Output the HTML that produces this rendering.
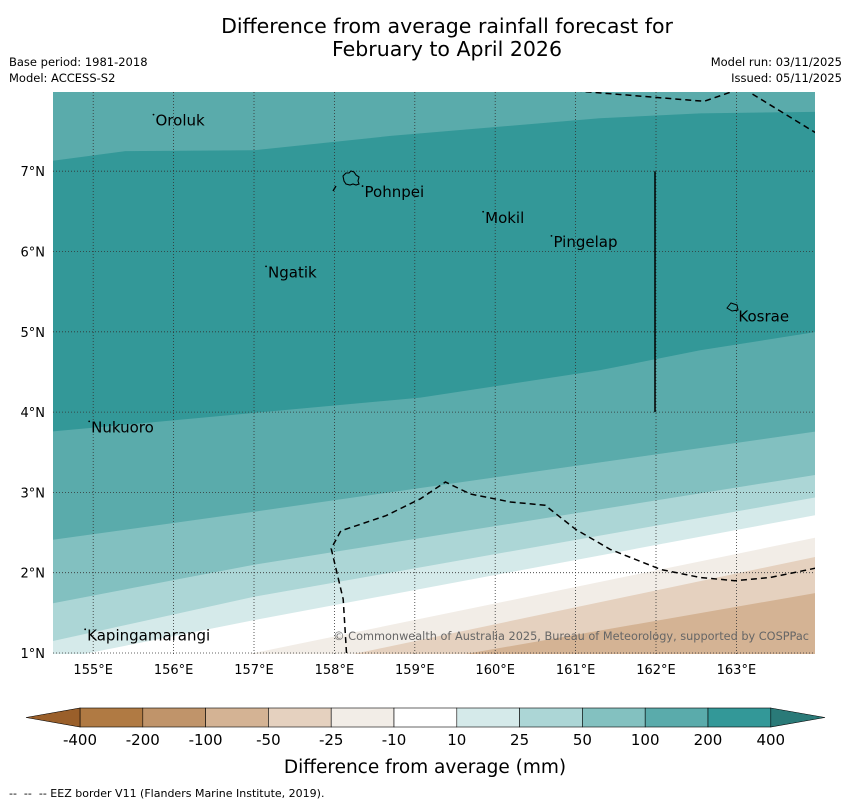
<!DOCTYPE html>
<html><head><meta charset="utf-8"><style>
body{margin:0;background:#fff;font-family:"DejaVu Sans","Liberation Sans",sans-serif}
svg{display:block}
</style></head><body>
<svg id="c" width="850" height="804" xmlns="http://www.w3.org/2000/svg">
<text x="447" y="33" font-size="20.5" text-anchor="middle">Difference from average rainfall forecast for</text>
<text x="447" y="56" font-size="20.5" text-anchor="middle">February to April 2026</text>
<text x="9" y="66" font-size="11.5">Base period: 1981-2018</text>
<text x="9" y="82" font-size="11.5">Model: ACCESS-S2</text>
<text x="842" y="66" font-size="11.5" text-anchor="end">Model run: 03/11/2025</text>
<text x="842" y="82" font-size="11.5" text-anchor="end">Issued: 05/11/2025</text>
<defs><clipPath id="pc"><rect x="53" y="92" width="762" height="562"/></clipPath></defs>
<g id="plot" clip-path="url(#pc)"></g>
<g id="over"></g>
<text x="425" y="773" font-size="18.5" text-anchor="middle">Difference from average (mm)</text>
<text x="9" y="797" font-size="11" xml:space="preserve" style="white-space:pre">--  --  -- EEZ border V11 (Flanders Marine Institute, 2019).</text>
</svg>
<script>
const lonTicks=[155,156,157,158,159,160,161,162,163];
const latTicks=[1,2,3,4,5,6,7];
const levelColors=["#5aabab","#339898","#82c0c0","#acd6d6","#d5eaea","#ffffff","#f2ede7","#e5d1bf","#d4b394"];
const top200=[[154.5,7.13],[155.4,7.25],[157.0,7.26],[158.7,7.44],[161.3,7.66],[162.55,7.72],[164,7.74]];
const low200=[[154.5,3.76],[157.0,3.99],[159.07,4.18],[161.3,4.52],[162.55,4.77],[164,5.0]];
const c100=[[154.5,2.41],[157,2.76],[164,3.76]];
const c50=[[154.5,1.62],[157,2.10],[164,3.22]];
const c25=[[154.5,1.15],[157,1.70],[164,2.94]];
const c10=[[154.5,0.91],[157,1.41],[164,2.72]];
const cm10=[[154.5,0.5],[157,1.0],[164,2.44]];
const cm25=[[154.5,0.2],[158.3,1.0],[164,2.2]];
const cm50=[[154.5,0.04],[159.7,1.0],[164,1.75]];
const eezLow=[[158.15,1.0],[158.11,1.67],[157.96,2.3],[158.08,2.52],[158.64,2.71],[159.07,2.92],[159.38,3.13],[159.69,2.98],[160.19,2.88],[160.62,2.84],[161.0,2.54],[161.43,2.29],[162.06,2.04],[162.55,1.94],[162.98,1.90],[163.42,1.94],[164,2.06]];
const eezTop=[[161.0,8.0],[162.6,7.87],[163.03,8.02]];
const eezTop2=[[163.2,7.96],[164,7.47]];
const cbLabels=["-400","-200","-100","-50","-25","-10","10","25","50","100","200","400"];
const cbColors=["#b07a43","#c0946a","#d4b394","#e5d1bf","#f2ede7","#ffffff","#d5eaea","#acd6d6","#83c1c0","#5aabab","#339898"];
const islands=[["Oroluk",155.75,7.63],["Pohnpei",158.35,6.74],["Mokil",159.85,6.42],["Pingelap",160.7,6.12],["Ngatik",157.15,5.74],["Kosrae",163.0,5.19],["Nukuoro",154.95,3.81],["Kapingamarangi",154.9,1.22]];
const X=lon=>53+(lon-154.5)*80.4;
const Y=lat=>653-(lat-1)*80.3;
const NS="http://www.w3.org/2000/svg";
const plot=document.getElementById('plot'),over=document.getElementById('over'),svg=document.getElementById('c');
function mk(t,a,p){const e=document.createElementNS(NS,t);for(const k in a)e.setAttribute(k,a[k]);(p||plot).appendChild(e);return e;}
const pts=a=>a.map(p=>X(p[0]).toFixed(1)+','+Y(p[1]).toFixed(1)).join(' ');
let bg=mk('rect',{x:53,y:92,width:762,height:562,fill:levelColors[0]});


let b200=mk('polygon',{points:pts(top200.concat(low200.slice().reverse())),fill:levelColors[1]});


const below=[c100,c50,c25,c10,cm10,cm25,cm50];
const belowNames=['band-50-100','band-25-50','band-10-25','band-neutral','band-minus25-minus10','band-minus50-minus25','band-minus100-minus50'];
below.forEach((l,i)=>{const p=mk('polygon',{points:pts(l.concat([[164,-1],[154.5,-1]])),fill:levelColors[i+2]});

});
lonTicks.forEach(v=>{const l=mk('line',{x1:X(v),x2:X(v),y1:92,y2:654,stroke:'#333','stroke-width':0.8,'stroke-dasharray':'1,2'});


const t=mk('text',{x:X(v),y:674,'font-size':13,'text-anchor':'middle'},svg);t.textContent=v+'°E';

});
latTicks.forEach(v=>{const l=mk('line',{x1:53,x2:815,y1:Y(v),y2:Y(v),stroke:'#333','stroke-width':0.8,'stroke-dasharray':'1,2'});


const t=mk('text',{x:45,y:Y(v)+5,'font-size':13,'text-anchor':'end'},svg);t.textContent=v+'°N';

});
[eezLow,eezTop,eezTop2].forEach(a=>{const e=mk('polyline',{points:pts(a),fill:'none',stroke:'#000','stroke-width':1.5,'stroke-dasharray':'6,4'});

});
let vl=mk('line',{x1:655,x2:655,y1:Y(7),y2:Y(4),stroke:'#000','stroke-width':1.5});


let pe=mk('line',{x1:333,y1:191,x2:336,y2:186,stroke:'#000','stroke-width':1.3});


let pi=mk('path',{d:'M343,176 l3,-3 l3,0 l2,-2 l3,1 l2,3 l3,2 l-1,4 l1,3 l-3,1 l-3,-1 l-3,1 l-4,-1 l-2,-3z',fill:'none',stroke:'#000','stroke-width':1.1});


let ko=mk('path',{d:'M727,308 l4,-5 l6,2 l1,5 l-6,1z',fill:'none',stroke:'#000','stroke-width':1});


islands.forEach(s=>{const t=mk('text',{x:X(s[1])+2,y:Y(s[2])+5,'font-size':15},over);t.textContent=s[0];


const d=mk('circle',{cx:X(s[1]),cy:Y(s[2])-6,r:0.9,fill:'#000'},over);

});
let cp=mk('text',{x:809,y:640,'font-size':11.3,fill:'#666','text-anchor':'end'},over);cp.textContent='© Commonwealth of Australia 2025, Bureau of Meteorology, supported by COSPPac';


// colorbar
const cbX=i=>80+i*62.8;
cbColors.forEach((c,i)=>{const r=mk('rect',{x:cbX(i),y:708,width:62.8,height:19,fill:c,stroke:'#000','stroke-width':0.6},svg);

});
let tl=mk('polygon',{points:'26,717.5 80,708 80,727',fill:'#9a5f2a',stroke:'#000','stroke-width':0.6},svg);


let tr=mk('polygon',{points:cbX(11)+',708 825,717.5 '+cbX(11)+',727',fill:'#2a7a78',stroke:'#000','stroke-width':0.6},svg);


cbLabels.forEach((s,i)=>{const t=mk('text',{x:cbX(i),y:745,'font-size':15,'text-anchor':'middle'},svg);t.textContent=s;

});
</script>
</body></html>
